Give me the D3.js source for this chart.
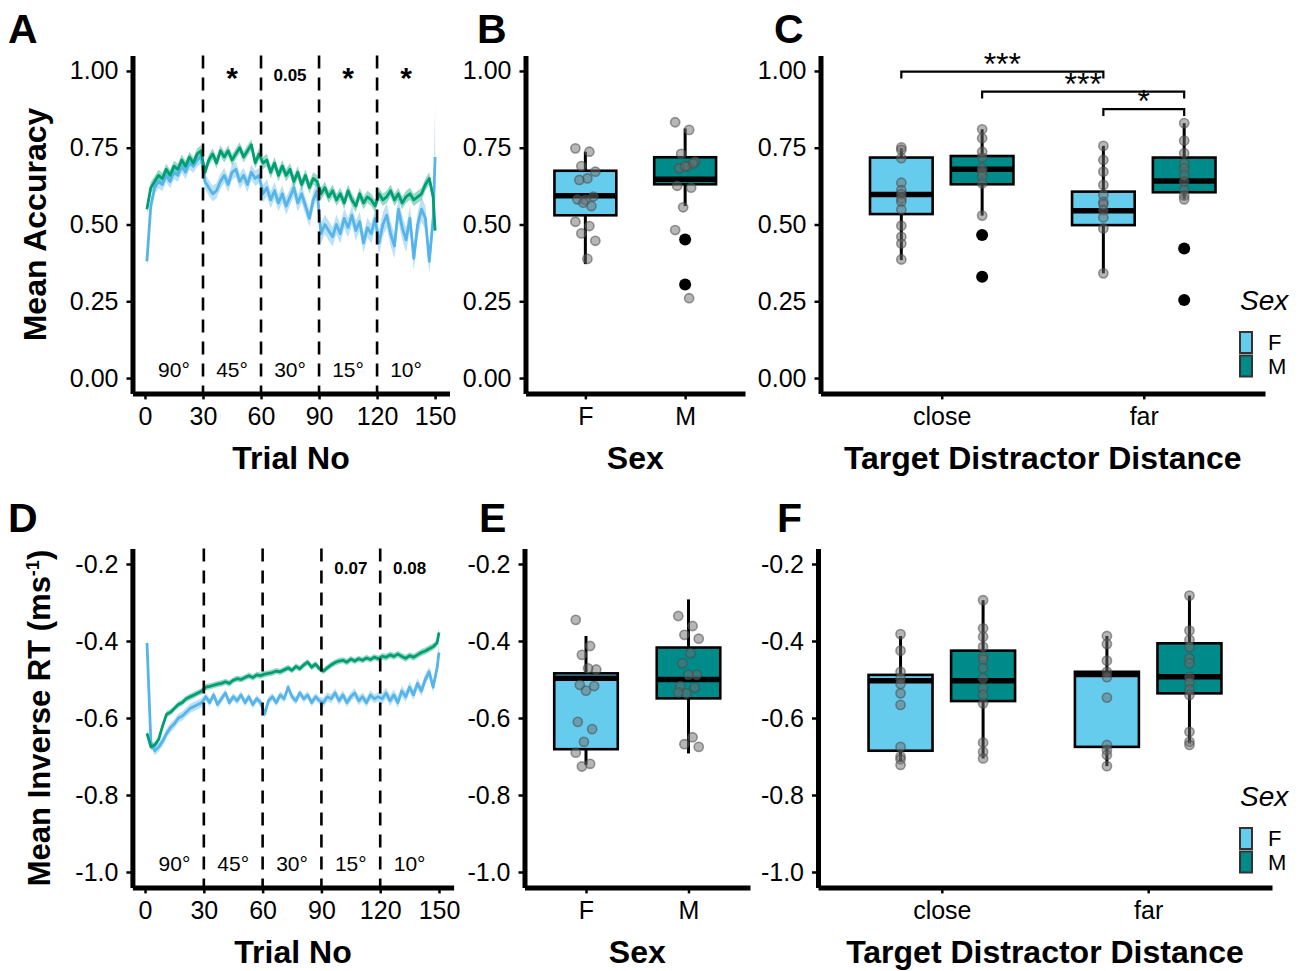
<!DOCTYPE html>
<html>
<head>
<meta charset="utf-8">
<script src="https://cdn.jsdelivr.net/npm/d3@7"></script>
<style>
  body { margin: 0; background: #fff; }
  svg { display: block; }
</style>
</head>
<body>
<script>
// ---- data ----
// trial series are sampled every second trial, plus the last trial
const trials = d3.range(1, 150, 2).concat([150]);

const accF = [
  0.38, 0.56, 0.62, 0.64, 0.63, 0.66, 0.64, 0.67, 0.66, 0.69, 0.67, 0.70, 0.69, 0.71, 0.72,
  0.64, 0.62, 0.60, 0.61, 0.64, 0.66, 0.63, 0.67, 0.68, 0.64, 0.66, 0.63, 0.67, 0.65, 0.66,
  0.60, 0.62, 0.58, 0.61, 0.57, 0.60, 0.56, 0.59, 0.62, 0.57, 0.60, 0.56, 0.52, 0.58, 0.61,
  0.47, 0.50, 0.48, 0.46, 0.50, 0.47, 0.52, 0.49, 0.53, 0.48, 0.51, 0.44, 0.49, 0.47, 0.52,
  0.44, 0.50, 0.53, 0.47, 0.43, 0.55, 0.49, 0.45, 0.52, 0.39, 0.50, 0.55, 0.52, 0.38, 0.52,
  0.72
];
const accM = [
  0.55, 0.62, 0.64, 0.66, 0.65, 0.68, 0.66, 0.69, 0.68, 0.71, 0.69, 0.72, 0.70, 0.73, 0.74,
  0.67, 0.71, 0.73, 0.70, 0.74, 0.72, 0.74, 0.71, 0.73, 0.75, 0.72, 0.74, 0.76, 0.70, 0.73,
  0.70, 0.71, 0.67, 0.70, 0.66, 0.69, 0.66, 0.68, 0.64, 0.67, 0.63, 0.66, 0.62, 0.65, 0.64,
  0.60, 0.62, 0.59, 0.61, 0.58, 0.60, 0.57, 0.61, 0.58, 0.56, 0.60, 0.57, 0.59, 0.58, 0.56,
  0.60, 0.58, 0.59, 0.61, 0.58, 0.60, 0.57, 0.59, 0.60, 0.58, 0.59, 0.60, 0.63, 0.65, 0.59,
  0.48
];
const rtF = [
  -0.405, -0.665, -0.685, -0.675, -0.660, -0.640, -0.625, -0.615, -0.600, -0.595, -0.585, -0.575, -0.570, -0.565, -0.560,
  -0.545, -0.560, -0.540, -0.565, -0.550, -0.535, -0.560, -0.545, -0.555, -0.540, -0.560, -0.545, -0.565, -0.550, -0.560,
  -0.590, -0.555, -0.545, -0.560, -0.540, -0.550, -0.520, -0.545, -0.555, -0.535, -0.550, -0.540, -0.560, -0.545, -0.555,
  -0.560, -0.545, -0.550, -0.535, -0.555, -0.540, -0.560, -0.545, -0.535, -0.555, -0.545, -0.560, -0.540, -0.550, -0.545,
  -0.550, -0.535, -0.555, -0.540, -0.560, -0.530, -0.545, -0.520, -0.540, -0.510, -0.530, -0.500, -0.480, -0.520, -0.470,
  -0.430
];
const rtM = [
  -0.640, -0.675, -0.670, -0.655, -0.620, -0.590, -0.585, -0.575, -0.565, -0.560, -0.550, -0.545, -0.540, -0.535, -0.530,
  -0.520, -0.518, -0.515, -0.512, -0.510, -0.506, -0.510, -0.502, -0.498, -0.500, -0.495, -0.490, -0.495, -0.488, -0.490,
  -0.486, -0.484, -0.482, -0.478, -0.480, -0.475, -0.470, -0.476, -0.466, -0.472, -0.462, -0.455, -0.468, -0.460, -0.472,
  -0.478, -0.470, -0.462, -0.456, -0.452, -0.450, -0.455, -0.447, -0.452, -0.446, -0.450, -0.444, -0.448, -0.442, -0.446,
  -0.440, -0.442, -0.436, -0.440, -0.434, -0.440, -0.445, -0.438, -0.442, -0.436, -0.430, -0.426, -0.420, -0.415, -0.405,
  -0.378
];

// standard errors per 30-trial block, and for the final trial
const accSeF = [0.022, 0.025, 0.028, 0.032, 0.04];
const accSeM = [0.018, 0.018, 0.02, 0.02, 0.02];
const accSeEnd = [0.17, 0.03];
const rtSeF = [0.012, 0.01, 0.01, 0.012, 0.014];
const rtSeM = [0.008, 0.008, 0.008, 0.008, 0.009];
const rtSeEnd = [0.03, 0.012];

const blockEdges = [30, 60, 90, 120];
const blockLabels = ['90°', '45°', '30°', '15°', '10°'];
const accBlockSig = ['', '*', '0.05', '*', '*'];
const rtBlockSig = ['', '', '', '0.07', '0.08'];

const sexes = ['F', 'M'];
const distances = ['close', 'far'];
const accTicks = [0, 0.25, 0.5, 0.75, 1];
const rtTicks = [-1.0, -0.8, -0.6, -0.4, -0.2];
const trialTicks = [0, 30, 60, 90, 120, 150];

// box stats: [lower whisker, q1, median, q3, upper whisker]
const accSexBox = [[0.371, 0.530, 0.594, 0.675, 0.737], [0.560, 0.631, 0.647, 0.719, 0.813]];
const accSexOut = [[], [0.451, 0.305]];
const accSexPts = [
  [0.748, 0.737, 0.690, 0.672, 0.650, 0.645, 0.591, 0.580, 0.582, 0.560, 0.571, 0.509, 0.495, 0.471, 0.447, 0.388],
  [0.833, 0.808, 0.730, 0.705, 0.688, 0.683, 0.699, 0.690, 0.626, 0.620, 0.556, 0.482, 0.260]
];

// distance groups: close F, close M, far F, far M
const distGroupCat = ['close', 'close', 'far', 'far'];
const distGroupSex = ['F', 'M', 'F', 'M'];
const accDistBox = [
  [0.384, 0.534, 0.598, 0.718, 0.748],
  [0.529, 0.631, 0.680, 0.723, 0.810],
  [0.341, 0.498, 0.545, 0.607, 0.756],
  [0.582, 0.605, 0.642, 0.718, 0.830]
];
const accDistOut = [[], [0.466, 0.330], [], [0.422, 0.254]];
const accDistPts = [
  [0.751, 0.743, 0.716, 0.636, 0.612, 0.599, 0.585, 0.574, 0.549, 0.496, 0.460, 0.438, 0.386],
  [0.810, 0.781, 0.737, 0.718, 0.683, 0.672, 0.656, 0.634, 0.529],
  [0.756, 0.710, 0.672, 0.629, 0.596, 0.574, 0.566, 0.547, 0.523, 0.487, 0.341],
  [0.830, 0.773, 0.732, 0.699, 0.683, 0.661, 0.640, 0.612, 0.594, 0.582]
];
// significance brackets: group index from, group index to, level, label
const accSigFrom = [0, 1, 2];
const accSigTo = [2, 3, 3];
const accSigLevel = [0.998, 0.933, 0.876];
const accSigLabel = ['***', '***', '*'];

const rtSexBox = [[-0.722, -0.681, -0.497, -0.484, -0.387], [-0.692, -0.549, -0.500, -0.417, -0.292]];
const rtSexOut = [[], []];
const rtSexPts = [
  [-0.345, -0.413, -0.436, -0.474, -0.471, -0.514, -0.517, -0.529, -0.610, -0.629, -0.662, -0.690, -0.719, -0.726],
  [-0.335, -0.361, -0.384, -0.394, -0.432, -0.458, -0.488, -0.488, -0.517, -0.521, -0.536, -0.534, -0.650, -0.668, -0.675]
];
const rtDistBox = [
  [-0.713, -0.685, -0.503, -0.488, -0.387],
  [-0.705, -0.556, -0.503, -0.425, -0.294],
  [-0.725, -0.675, -0.487, -0.480, -0.387],
  [-0.666, -0.536, -0.493, -0.406, -0.282]
];
const rtDistOut = [[], [], [], []];
const rtDistPts = [
  [-0.382, -0.425, -0.480, -0.497, -0.512, -0.536, -0.566, -0.675, -0.700, -0.707, -0.722],
  [-0.294, -0.367, -0.389, -0.415, -0.441, -0.448, -0.471, -0.497, -0.523, -0.540, -0.562, -0.664, -0.688, -0.705],
  [-0.387, -0.408, -0.451, -0.480, -0.494, -0.547, -0.670, -0.683, -0.696, -0.725],
  [-0.282, -0.373, -0.397, -0.416, -0.445, -0.458, -0.493, -0.508, -0.526, -0.540, -0.636, -0.662, -0.670]
];

// ---- drawing ----
const FONT = '"Liberation Sans", Arial, sans-serif';
const lineCol = { F: '#56B4E9', M: '#009E73' };
const boxCol = { F: '#66CCEE', M: '#008B8B' };

const svg = d3.select('body').append('svg')
  .attr('width', 1306)
  .attr('height', 971)
  .style('font-family', FONT);

function axes(x, y, xTicks, yTicks, yFmt) {
  const bottom = y.range()[0];
  const left = x.range()[0];
  const ax = svg.append('g')
    .attr('transform', `translate(0,${bottom})`)
    .call(d3.axisBottom(x).tickValues(xTicks).tickSize(6).tickSizeOuter(0).tickPadding(8));
  const ay = svg.append('g')
    .attr('transform', `translate(${left},0)`)
    .call(d3.axisLeft(y).tickValues(yTicks).tickFormat(yFmt).tickSize(6).tickSizeOuter(0).tickPadding(8));
  [ax, ay].forEach(a => {
    a.attr('font-family', FONT).attr('font-size', 25);
    a.select('.domain').attr('stroke-width', 5);
    a.selectAll('.tick line').attr('stroke-width', 2.5);
    a.selectAll('.tick text').attr('fill', '#000');
  });
}

function seriesPoints(vals, seBlocks, seEnd) {
  return trials.map((t, i) => ({
    t: t,
    v: vals[i],
    se: i === trials.length - 1 ? seEnd : seBlocks[Math.min(4, Math.floor((t - 1) / 30))]
  }));
}

function linePanel(x, y, seriesF, seriesM, sigLabels) {
  const top = y.range()[1];
  const bottom = y.range()[0];
  const area = d3.area().x(d => x(d.t)).y0(d => y(d.v - d.se)).y1(d => y(d.v + d.se));
  const line = d3.line().x(d => x(d.t)).y(d => y(d.v));

  [['F', seriesF], ['M', seriesM]].forEach(([s, pts]) => {
    svg.append('path').datum(pts)
      .attr('d', area)
      .attr('fill', lineCol[s])
      .attr('fill-opacity', 0.4);
  });
  [['F', seriesF], ['M', seriesM]].forEach(([s, pts]) => {
    svg.append('path').datum(pts)
      .attr('d', line)
      .attr('fill', 'none')
      .attr('stroke', lineCol[s])
      .attr('stroke-width', 2.8)
      .attr('stroke-linejoin', 'round');
  });

  svg.append('g').selectAll('line')
    .data(blockEdges)
    .enter()
    .append('line')
    .attr('x1', d => x(d)).attr('x2', d => x(d))
    .attr('y1', top).attr('y2', bottom)
    .attr('stroke', '#000')
    .attr('stroke-width', 2.6)
    .attr('stroke-dasharray', '13,9');

  svg.append('g').selectAll('text')
    .data(blockLabels)
    .enter()
    .append('text')
    .attr('x', (d, i) => x(i * 30 + 15))
    .attr('y', bottom - 16)
    .attr('text-anchor', 'middle')
    .attr('font-size', 21)
    .text(d => d);

  svg.append('g').selectAll('text')
    .data(sigLabels)
    .enter()
    .append('text')
    .attr('x', (d, i) => x(i * 30 + 15))
    .attr('y', d => d.startsWith('*') ? top + 32 : top + 25)
    .attr('text-anchor', 'middle')
    .attr('font-weight', 'bold')
    .attr('font-size', d => d.startsWith('*') ? 30 : 17)
    .text(d => d);
}

function jitter(i, w) {
  return (((i * 7) % 11) / 10 - 0.5) * 2 * w;
}

function box(cx, w, y, stats, sex, outliers) {
  const [lo, q1, med, q3, hi] = stats;
  const g = svg.append('g');
  g.append('line')
    .attr('x1', cx).attr('x2', cx)
    .attr('y1', y(lo)).attr('y2', y(hi))
    .attr('stroke', '#000').attr('stroke-width', 3);
  g.append('rect')
    .attr('x', cx - w / 2).attr('width', w)
    .attr('y', y(q3)).attr('height', y(q1) - y(q3))
    .attr('fill', boxCol[sex])
    .attr('stroke', '#000').attr('stroke-width', 2.6);
  g.append('line')
    .attr('x1', cx - w / 2).attr('x2', cx + w / 2)
    .attr('y1', y(med)).attr('y2', y(med))
    .attr('stroke', '#000').attr('stroke-width', 5.5);
  g.selectAll('circle.out')
    .data(outliers)
    .enter()
    .append('circle')
    .attr('cx', cx).attr('cy', d => y(d))
    .attr('r', 6)
    .attr('fill', '#000');
}

function points(cx, jw, y, vals) {
  svg.append('g').selectAll('circle')
    .data(vals)
    .enter()
    .append('circle')
    .attr('cx', (d, i) => cx + jitter(i, jw))
    .attr('cy', d => y(d))
    .attr('r', 4.6)
    .attr('fill', '#6e6e6e').attr('fill-opacity', 0.5)
    .attr('stroke', '#4a4a4a').attr('stroke-opacity', 0.55)
    .attr('stroke-width', 1.6);
}

function sexPanel(x, y, boxes, outs, pts) {
  const w = 0.62 * x.step();
  sexes.forEach((s, i) => box(x(s), w, y, boxes[i], s, outs[i]));
  sexes.forEach((s, i) => points(x(s), 0.1 * x.step(), y, pts[i]));
}

function distPanel(x, y, boxes, outs, pts) {
  const w = 0.31 * x.step();
  const gx = i => x(distGroupCat[i]) + (distGroupSex[i] === 'F' ? -1 : 1) * 0.2 * x.step();
  boxes.forEach((b, i) => box(gx(i), w, y, b, distGroupSex[i], outs[i]));
  pts.forEach((p, i) => points(gx(i), 0, y, p));
  return gx;
}

function legend(topY) {
  svg.append('text')
    .attr('x', 1240).attr('y', topY)
    .attr('font-size', 28).attr('font-style', 'italic')
    .text('Sex');
  sexes.forEach((s, i) => {
    svg.append('rect')
      .attr('x', 1240).attr('y', topY + 22 + i * 23.5)
      .attr('width', 12).attr('height', 21)
      .attr('fill', boxCol[s])
      .attr('stroke', '#333').attr('stroke-width', 2);
    svg.append('text')
      .attr('x', 1268).attr('y', topY + 40 + i * 24)
      .attr('font-size', 22)
      .text(s);
  });
}

function xTitle(x, yPos, label) {
  const r = x.range();
  svg.append('text')
    .attr('x', (r[0] + r[1]) / 2).attr('y', yPos)
    .attr('text-anchor', 'middle')
    .attr('font-size', 32).attr('font-weight', 'bold')
    .text(label);
}

function panelLetter(x, y, label) {
  svg.append('text')
    .attr('x', x).attr('y', y)
    .attr('font-size', 41).attr('font-weight', 'bold')
    .text(label);
}

// scales (panel extents include ggplot-style expansion)
const xA = d3.scaleLinear().domain([-6.45, 157.45]).range([132.5, 449.5]);
const yA = d3.scaleLinear().domain([-0.05, 1.05]).range([393.4, 55.6]);
const xB = d3.scalePoint().domain(sexes).range([525.5, 745]).padding(0.6);
const xC = d3.scalePoint().domain(distances).range([820.5, 1265]).padding(0.6);

const xD = d3.scaleLinear().domain([-6.45, 157.45]).range([132.4, 453.6]);
const yD = d3.scaleLinear().domain([-1.04, -0.16]).range([887.4, 548.6]);
const xE = d3.scalePoint().domain(sexes).range([524.5, 750]).padding(0.6);
const xF = d3.scalePoint().domain(distances).range([818, 1272]).padding(0.6);

const fmtAcc = d3.format('.2f');
const fmtRt = d => d.toFixed(1);

// Panel A
linePanel(xA, yA,
  seriesPoints(accF, accSeF, accSeEnd[0]),
  seriesPoints(accM, accSeM, accSeEnd[1]),
  accBlockSig);
axes(xA, yA, trialTicks, accTicks, fmtAcc);

// Panel B
sexPanel(xB, yA, accSexBox, accSexOut, accSexPts);
axes(xB, yA, sexes, accTicks, fmtAcc);

// Panel C
const gC = distPanel(xC, yA, accDistBox, accDistOut, accDistPts);
axes(xC, yA, distances, accTicks, fmtAcc);
accSigFrom.forEach((from, i) => {
  const x1 = gC(from), x2 = gC(accSigTo[i]), yy = yA(accSigLevel[i]);
  svg.append('path')
    .attr('d', `M${x1},${yy + 7}V${yy}H${x2}V${yy + 7}`)
    .attr('fill', 'none')
    .attr('stroke', '#000')
    .attr('stroke-width', 2.2);
  svg.append('text')
    .attr('x', (x1 + x2) / 2).attr('y', yy + 3)
    .attr('text-anchor', 'middle')
    .attr('font-size', 32)
    .text(accSigLabel[i]);
});
legend(310);

// Panel D
linePanel(xD, yD,
  seriesPoints(rtF, rtSeF, rtSeEnd[0]),
  seriesPoints(rtM, rtSeM, rtSeEnd[1]),
  rtBlockSig);
axes(xD, yD, trialTicks, rtTicks, fmtRt);

// Panel E
sexPanel(xE, yD, rtSexBox, rtSexOut, rtSexPts);
axes(xE, yD, sexes, rtTicks, fmtRt);

// Panel F
distPanel(xF, yD, rtDistBox, rtDistOut, rtDistPts);
axes(xF, yD, distances, rtTicks, fmtRt);
legend(806);

// titles
xTitle(xA, 469, 'Trial No');
xTitle(xB, 469, 'Sex');
xTitle(xC, 469, 'Target Distractor Distance');
xTitle(xD, 963, 'Trial No');
xTitle(xE, 963, 'Sex');
xTitle(xF, 963, 'Target Distractor Distance');

svg.append('text')
  .attr('transform', 'translate(46,224.5) rotate(-90)')
  .attr('text-anchor', 'middle')
  .attr('font-size', 32).attr('font-weight', 'bold')
  .text('Mean Accuracy');

const rtTitle = svg.append('text')
  .attr('transform', 'translate(50,718) rotate(-90)')
  .attr('text-anchor', 'middle')
  .attr('font-size', 31).attr('font-weight', 'bold');
rtTitle.append('tspan').text('Mean Inverse RT  (ms');
rtTitle.append('tspan').attr('dy', -11).attr('font-size', 18).text('-1');
rtTitle.append('tspan').attr('dy', 11).text(')');

panelLetter(8, 43, 'A');
panelLetter(477, 43, 'B');
panelLetter(774, 43, 'C');
panelLetter(8, 532, 'D');
panelLetter(479, 532, 'E');
panelLetter(777, 532, 'F');
</script>
</body>
</html>
